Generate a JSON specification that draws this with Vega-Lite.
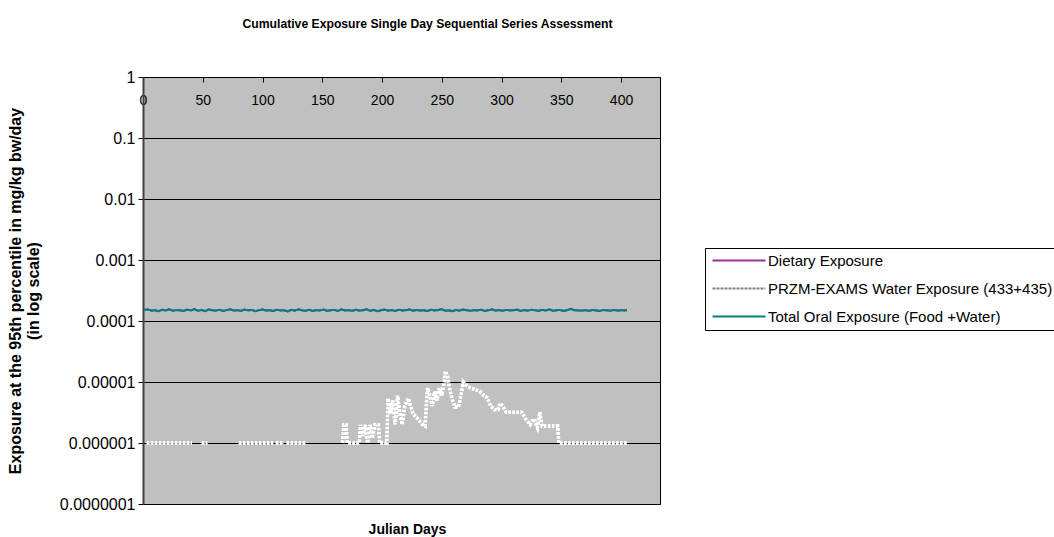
{
  "$schema": "https://vega.github.io/schema/vega-lite/v6.json",
  "width": 517,
  "height": 427,
  "autosize": "none",
  "padding": {"left": 143, "top": 77, "right": 394, "bottom": 33},
  "background": "white",
  "config": {
    "font": "Liberation Sans",
    "view": {"fill": "#C0C0C0", "stroke": "#000000", "strokeWidth": 1},
    "legend": {
      "orient": "none",
      "legendX": 562,
      "legendY": 171,
      "title": null,
      "symbolType": "M-1,0H9.6",
      "symbolSize": 100,
      "symbolStrokeWidth": 2,
      "labelFont": "Liberation Sans",
      "labelFontSize": 15,
      "labelColor": "black",
      "labelLimit": 600,
      "labelOffset": 43,
      "fillColor": "white",
      "strokeColor": "black",
      "padding": 5,
      "rowPadding": 12
    }
  },
  "title": {
    "text": "Cumulative Exposure Single Day Sequential Series Assessment",
    "font": "Liberation Sans",
    "fontSize": 12.2,
    "fontWeight": "bold",
    "color": "black",
    "dx": 26,
    "offset": 39
  },
  "datasets": {
    "oral": [
      {"day":1,"dietary":0.000152,"total":0.000152},{"day":4,"dietary":0.000155,"total":0.000155},{"day":7,"dietary":0.000148,"total":0.000148},{"day":10,"dietary":0.00015,"total":0.00015},{"day":13,"dietary":0.000145,"total":0.000145},{"day":16,"dietary":0.000153,"total":0.000153},{"day":19,"dietary":0.000149,"total":0.000149},{"day":22,"dietary":0.000156,"total":0.000156},{"day":25,"dietary":0.000147,"total":0.000147},{"day":28,"dietary":0.000151,"total":0.000151},
      {"day":31,"dietary":0.00015,"total":0.00015},{"day":34,"dietary":0.000146,"total":0.000146},{"day":37,"dietary":0.000154,"total":0.000154},{"day":40,"dietary":0.000149,"total":0.000149},{"day":43,"dietary":0.000157,"total":0.000157},{"day":46,"dietary":0.000147,"total":0.000147},{"day":49,"dietary":0.000152,"total":0.000152},{"day":52,"dietary":0.000145,"total":0.000145},{"day":55,"dietary":0.000155,"total":0.000155},{"day":58,"dietary":0.00015,"total":0.00015},
      {"day":61,"dietary":0.000148,"total":0.000148},{"day":64,"dietary":0.000153,"total":0.000153},{"day":67,"dietary":0.000146,"total":0.000146},{"day":70,"dietary":0.000151,"total":0.000151},{"day":73,"dietary":0.000156,"total":0.000156},{"day":76,"dietary":0.000148,"total":0.000148},{"day":79,"dietary":0.00015,"total":0.00015},{"day":82,"dietary":0.000147,"total":0.000147},{"day":85,"dietary":0.000154,"total":0.000154},{"day":88,"dietary":0.000149,"total":0.000149},
      {"day":91,"dietary":0.000152,"total":0.000152},{"day":94,"dietary":0.000145,"total":0.000145},{"day":97,"dietary":0.00015,"total":0.00015},{"day":100,"dietary":0.000155,"total":0.000155},{"day":103,"dietary":0.000148,"total":0.000148},{"day":106,"dietary":0.000151,"total":0.000151},{"day":109,"dietary":0.000146,"total":0.000146},{"day":112,"dietary":0.000153,"total":0.000153},{"day":115,"dietary":0.000149,"total":0.000149},{"day":118,"dietary":0.00015,"total":0.00015},
      {"day":121,"dietary":0.000144,"total":0.000144},{"day":124,"dietary":0.000152,"total":0.000152},{"day":127,"dietary":0.000148,"total":0.000148},{"day":130,"dietary":0.000155,"total":0.000155},{"day":133,"dietary":0.00015,"total":0.00015},{"day":136,"dietary":0.000147,"total":0.000147},{"day":139,"dietary":0.000153,"total":0.000153},{"day":142,"dietary":0.000146,"total":0.000146},{"day":145,"dietary":0.000151,"total":0.000151},{"day":148,"dietary":0.000149,"total":0.000149},
      {"day":151,"dietary":0.000154,"total":0.000154},{"day":154,"dietary":0.000147,"total":0.000147},{"day":157,"dietary":0.00015,"total":0.00015},{"day":160,"dietary":0.000152,"total":0.000152},{"day":163,"dietary":0.000146,"total":0.000146},{"day":166,"dietary":0.000155,"total":0.000155},{"day":169,"dietary":0.000149,"total":0.000149},{"day":172,"dietary":0.000151,"total":0.000151},{"day":175,"dietary":0.000147,"total":0.000147},{"day":178,"dietary":0.000153,"total":0.000153},
      {"day":181,"dietary":0.000148,"total":0.000148},{"day":184,"dietary":0.00015,"total":0.00015},{"day":187,"dietary":0.000156,"total":0.000156},{"day":190,"dietary":0.000147,"total":0.000147},{"day":193,"dietary":0.000152,"total":0.000152},{"day":196,"dietary":0.000145,"total":0.000145},{"day":199,"dietary":0.00015,"total":0.00015},{"day":202,"dietary":0.000154,"total":0.000154},{"day":205,"dietary":0.000148,"total":0.000148},{"day":208,"dietary":0.000151,"total":0.000151},
      {"day":211,"dietary":0.000146,"total":0.000146},{"day":214,"dietary":0.000153,"total":0.000153},{"day":217,"dietary":0.000149,"total":0.000149},{"day":220,"dietary":0.00015,"total":0.00015},{"day":223,"dietary":0.000155,"total":0.000155},{"day":226,"dietary":0.000147,"total":0.000147},{"day":229,"dietary":0.000152,"total":0.000152},{"day":232,"dietary":0.000148,"total":0.000148},{"day":235,"dietary":0.00015,"total":0.00015},{"day":238,"dietary":0.000146,"total":0.000146},
      {"day":241,"dietary":0.000153,"total":0.000153},{"day":244,"dietary":0.000149,"total":0.000149},{"day":247,"dietary":0.000151,"total":0.000151},{"day":250,"dietary":0.000156,"total":0.000156},{"day":253,"dietary":0.000147,"total":0.000147},{"day":256,"dietary":0.00015,"total":0.00015},{"day":259,"dietary":0.000145,"total":0.000145},{"day":262,"dietary":0.000152,"total":0.000152},{"day":265,"dietary":0.000148,"total":0.000148},{"day":268,"dietary":0.000154,"total":0.000154},
      {"day":271,"dietary":0.00015,"total":0.00015},{"day":274,"dietary":0.000147,"total":0.000147},{"day":277,"dietary":0.000151,"total":0.000151},{"day":280,"dietary":0.000149,"total":0.000149},{"day":283,"dietary":0.000153,"total":0.000153},{"day":286,"dietary":0.000146,"total":0.000146},{"day":289,"dietary":0.00015,"total":0.00015},{"day":292,"dietary":0.000155,"total":0.000155},{"day":295,"dietary":0.000148,"total":0.000148},{"day":298,"dietary":0.000151,"total":0.000151},
      {"day":301,"dietary":0.000147,"total":0.000147},{"day":304,"dietary":0.000152,"total":0.000152},{"day":307,"dietary":0.000149,"total":0.000149},{"day":310,"dietary":0.00015,"total":0.00015},{"day":313,"dietary":0.000154,"total":0.000154},{"day":316,"dietary":0.000146,"total":0.000146},{"day":319,"dietary":0.000151,"total":0.000151},{"day":322,"dietary":0.000148,"total":0.000148},{"day":325,"dietary":0.000153,"total":0.000153},{"day":328,"dietary":0.00015,"total":0.00015},
      {"day":331,"dietary":0.000147,"total":0.000147},{"day":334,"dietary":0.000152,"total":0.000152},{"day":337,"dietary":0.000149,"total":0.000149},{"day":340,"dietary":0.000155,"total":0.000155},{"day":343,"dietary":0.000147,"total":0.000147},{"day":346,"dietary":0.00015,"total":0.00015},{"day":349,"dietary":0.000152,"total":0.000152},{"day":352,"dietary":0.000146,"total":0.000146},{"day":355,"dietary":0.000151,"total":0.000151},{"day":358,"dietary":0.000158,"total":0.000158},
      {"day":361,"dietary":0.00015,"total":0.00015},{"day":364,"dietary":0.000149,"total":0.000149},{"day":367,"dietary":0.000148,"total":0.000148},{"day":370,"dietary":0.00015,"total":0.00015},{"day":373,"dietary":0.000147,"total":0.000147},{"day":376,"dietary":0.000152,"total":0.000152},{"day":379,"dietary":0.000149,"total":0.000149},{"day":382,"dietary":0.000146,"total":0.000146},{"day":385,"dietary":0.000151,"total":0.000151},{"day":388,"dietary":0.00015,"total":0.00015},
      {"day":391,"dietary":0.000147,"total":0.000147},{"day":394,"dietary":0.000152,"total":0.000152},{"day":397,"dietary":0.000148,"total":0.000148},{"day":400,"dietary":0.00015,"total":0.00015},{"day":403,"dietary":0.000149,"total":0.000149},{"day":405,"dietary":0.00015,"total":0.00015}
    ],
    "water": [
      {"day":1,"water":null},{"day":3,"water":0.000001},{"day":41,"water":0.000001},{"day":45,"water":null},{"day":49,"water":0.000001},{"day":54,"water":0.000001},{"day":60,"water":null},
      {"day":80,"water":0.000001},{"day":109,"water":0.000001},{"day":110,"water":null},{"day":111,"water":0.000001},{"day":118,"water":0.000001},{"day":119,"water":null},{"day":120,"water":0.000001},{"day":136,"water":0.000001},{"day":150,"water":null},
      {"day":167,"water":0.000001},{"day":168,"water":0.000002},{"day":170,"water":0.000002},{"day":171,"water":0.000001},{"day":181,"water":0.000001},{"day":182,"water":0.000002},{"day":184,"water":0.0000013},{"day":186,"water":0.000002},{"day":188,"water":0.000001},{"day":190,"water":0.000002},{"day":192,"water":0.0000012},{"day":194,"water":0.000002},{"day":197,"water":0.000002},{"day":198,"water":0.000001},{"day":204,"water":0.000001},
      {"day":205,"water":0.0000054},{"day":207,"water":0.000003},{"day":209,"water":0.000005},{"day":211,"water":0.000002},{"day":213,"water":0.000006},{"day":215,"water":0.000003},{"day":217,"water":0.000002},{"day":219,"water":0.000004},{"day":222,"water":0.0000054},{"day":224,"water":0.000004},{"day":226,"water":0.000003},{"day":230,"water":0.0000025},{"day":234,"water":0.000002},{"day":236,"water":0.0000019},
      {"day":238,"water":0.000008},{"day":240,"water":0.000006},{"day":242,"water":0.000004},{"day":244,"water":0.000007},{"day":246,"water":0.000005},{"day":248,"water":0.000008},{"day":250,"water":0.000006},{"day":252,"water":0.00001},{"day":253,"water":0.000015},{"day":255,"water":0.000012},{"day":257,"water":0.000007},{"day":259,"water":0.000005},{"day":261,"water":0.0000039},{"day":264,"water":0.0000039},
      {"day":266,"water":0.000006},{"day":268,"water":0.00001},{"day":270,"water":0.000009},{"day":274,"water":0.000008},{"day":278,"water":0.0000075},{"day":282,"water":0.000007},{"day":285,"water":0.000006},{"day":288,"water":0.0000055},{"day":291,"water":0.000004},{"day":294,"water":0.0000035},{"day":297,"water":0.0000035},{"day":299,"water":0.0000045},{"day":301,"water":0.000004},{"day":304,"water":0.0000032},
      {"day":307,"water":0.0000032},{"day":312,"water":0.0000032},{"day":317,"water":0.0000032},{"day":320,"water":0.0000025},{"day":324,"water":0.000002},{"day":327,"water":0.0000025},{"day":330,"water":0.0000018},{"day":332,"water":0.0000032},{"day":334,"water":0.0000019},{"day":347,"water":0.0000019},{"day":348,"water":0.000001},{"day":405,"water":0.000001}
    ]
  },
  "encoding": {
    "y": {
      "field": "value",
      "type": "quantitative",
      "scale": {"type": "log", "domain": [0.0000001, 1], "nice": false},
      "axis": {
        "values": [0.0000001, 0.000001, 0.00001, 0.0001, 0.001, 0.01, 0.1, 1],
        "format": ".7~f",
        "tickSize": 5,
        "tickColor": "black",
        "labelPadding": 3,
        "labelFontSize": 16,
        "labelColor": "black",
        "labelFont": "Liberation Sans",
        "grid": true,
        "gridColor": "black",
        "gridWidth": 1,
        "domainColor": "#404040",
        "domainWidth": 2,
        "title": ["Exposure at the 95th percentile in mg/kg bw/day", "(in log scale)"],
        "titleFont": "Liberation Sans",
        "titleFontSize": 16,
        "titleFontWeight": "bold",
        "titleColor": "black",
        "titleLineHeight": 18,
        "titlePadding": 18
      }
    },
    "color": {
      "field": "series",
      "type": "nominal",
      "scale": {"domain": ["dietary", "water", "total"], "range": ["#993399", "#808080", "#008080"]},
      "legend": {
        "labelExpr": "datum.value == 'dietary' ? 'Dietary Exposure' : datum.value == 'water' ? 'PRZM-EXAMS Water Exposure (433+435)' : 'Total Oral Exposure (Food +Water)'"
      }
    },
    "strokeDash": {
      "field": "series",
      "type": "nominal",
      "scale": {"domain": ["dietary", "water", "total"], "range": [[1, 0], [3, 1], [1, 0]]},
      "legend": {
        "labelExpr": "datum.value == 'dietary' ? 'Dietary Exposure' : datum.value == 'water' ? 'PRZM-EXAMS Water Exposure (433+435)' : 'Total Oral Exposure (Food +Water)'"
      }
    }
  },
  "layer": [
    {
      "data": {"name": "oral"},
      "transform": [{"fold": ["dietary"], "as": ["series", "value"]}],
      "mark": {"type": "line", "strokeWidth": 2},
      "encoding": {
        "x": {
          "field": "day",
          "type": "quantitative",
          "scale": {"domain": [0, 432.6], "nice": false, "zero": false},
          "axis": {
            "orient": "top",
            "values": [0, 50, 100, 150, 200, 250, 300, 350, 400],
            "tickSize": -5,
            "tickColor": "black",
            "labelPadding": -25,
            "labelFontSize": 14,
            "labelFont": "Liberation Sans",
            "labelColor": "black",
            "labelOverlap": false,
            "labelFlush": false,
            "labelBound": false,
            "domainColor": "black",
            "grid": false,
            "title": null
          }
        }
      }
    },
    {
      "data": {"name": "water"},
      "transform": [{"fold": ["water"], "as": ["series", "value"]}],
      "mark": {"type": "line", "strokeWidth": 4, "invalid": "break-paths-show-domains"},
      "encoding": {
        "x": {"field": "day", "type": "quantitative", "axis": null}
      }
    },
    {
      "data": {"name": "water"},
      "transform": [{"fold": ["water"], "as": ["series", "value"]}],
      "mark": {"type": "line", "strokeWidth": 4, "invalid": "break-paths-show-domains"},
      "encoding": {
        "x": {
          "field": "day",
          "type": "quantitative",
          "axis": {
            "orient": "bottom",
            "labels": false,
            "ticks": false,
            "domain": false,
            "grid": false,
            "title": "Julian Days",
            "titleX": 264,
            "titleFont": "Liberation Sans",
            "titleFontSize": 14,
            "titleFontWeight": "bold",
            "titleColor": "black",
            "titlePadding": 18
          }
        },
        "color": {"value": "white"},
        "strokeDash": {"value": [3, 1]}
      }
    },
    {
      "data": {"name": "oral"},
      "transform": [{"fold": ["total"], "as": ["series", "value"]}],
      "mark": {"type": "line", "strokeWidth": 2},
      "encoding": {
        "x": {"field": "day", "type": "quantitative", "axis": null}
      }
    }
  ],
  "resolve": {"axis": {"x": "independent"}}
}
